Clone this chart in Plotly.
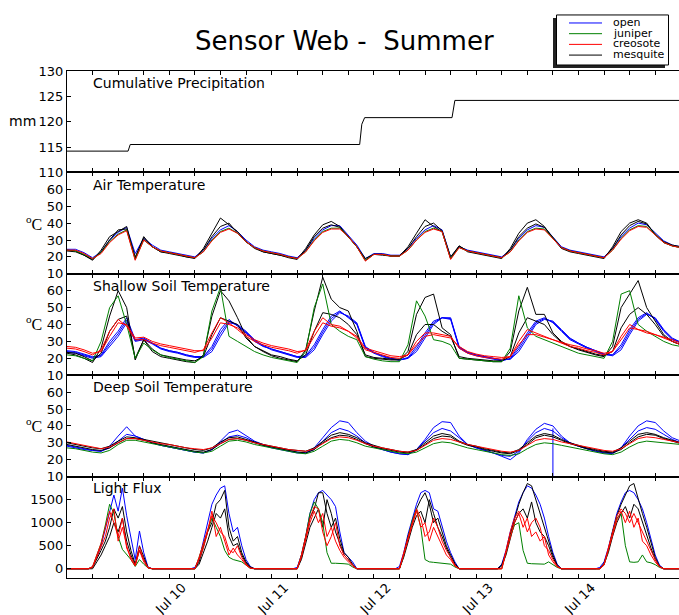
import pandas as pd
import plotly.graph_objects as go
from plotly.subplots import make_subplots

# ---------------------------------------------------------------- time bases
t_temp = pd.date_range("2010-07-09 00:00", periods=73, freq="2h")   # 2-hourly
t_light = pd.date_range("2010-07-09 00:00", periods=145, freq="h")  # hourly

# ---------------------------------------------------------------- precipitation (mm, cumulative)
precip_time = ["2010-07-09 00:00", "2010-07-09 14:20", "2010-07-09 14:50",
               "2010-07-11 20:40", "2010-07-11 21:10", "2010-07-11 21:50",
               "2010-07-12 18:20", "2010-07-12 19:00", "2010-07-15 00:00"]
precip_mm = [114.2, 114.2, 115.5, 115.5, 119.5, 120.8, 120.8, 124.2, 124.2]

# ---------------------------------------------------------------- air temperature (degC, 2-hourly)
air_open = [
    24.5, 24.5, 22.5, 19.5, 23, 30, 34.5, 37.5, 22, 31, 27, 24,
    23, 22, 21, 20, 24, 31, 36, 38.5, 35, 30, 26, 24,
    23, 22, 20.5, 19.5, 24, 31, 36, 38.5, 38.5, 33, 27, 19,
    22, 22, 21, 21, 25, 31, 36, 38.5, 36, 20, 26, 24,
    23, 22, 21, 20, 24, 31, 36, 38.5, 37.5, 32, 26, 24,
    23, 22, 21, 20, 25, 32, 37, 40, 39, 34, 29.5, 27, 26]
air_juniper = [
    24, 23.5, 21.5, 19, 22.5, 29, 33.5, 36, 18.5, 30, 26, 23.5,
    22.5, 21.5, 20.5, 19.5, 23, 30, 35, 37, 34, 29, 25.5, 23.5,
    22.5, 21.5, 20, 19, 23, 30, 35, 37, 37, 32, 26, 18,
    21.5, 21.5, 20.5, 20.5, 24, 30, 35, 37, 35, 19, 25.5, 23.5,
    22.5, 21.5, 20.5, 19.5, 23, 30, 35, 37, 36.5, 31, 25.5, 23.5,
    22.5, 21.5, 20.5, 19.5, 24, 31, 36, 38.5, 38, 33, 28.5, 26.5, 25.5]
air_creosote = [
    24, 24, 22, 19, 22, 28.5, 33, 35.5, 18, 30, 26, 23.5,
    22.5, 21.5, 20.5, 19.5, 23, 29.5, 34.5, 36.5, 34, 29, 25.5, 23.5,
    22.5, 21.5, 20, 19, 23, 29.5, 34.5, 36.5, 36.5, 32, 26, 17.5,
    21.5, 21.5, 20.5, 20.5, 24, 30, 34.5, 36.5, 35, 18.5, 25.5, 23.5,
    22.5, 21.5, 20.5, 19.5, 23, 29.5, 34.5, 36.5, 36, 31, 25.5, 23.5,
    22.5, 21.5, 20.5, 19.5, 24, 30.5, 35.5, 38, 37.5, 33, 28.5, 26.5, 25.5]
air_mesquite_a = [
    24, 23.5, 21, 18, 24, 32, 35, 38, 19, 32, 26, 23,
    22, 21, 20, 19, 25, 34, 43, 39, 35, 29, 25, 23,
    22, 21, 19.5, 18.5, 25, 33, 39, 41, 38, 32, 26, 18,
    21.5, 21, 20.5, 20.5, 26, 34, 42, 38, 35, 19, 26.5, 23,
    22, 21, 20, 19, 25, 34, 40, 42, 38, 31, 25, 23,
    22, 21, 20, 19, 26, 35, 40, 42, 40, 33, 28.5, 26.5, 25.5]
air_mesquite_b = [
    23.5, 23, 21, 18.5, 23, 30, 36, 36.5, 20, 31, 26, 23,
    22.5, 21.5, 20, 19.5, 24, 32, 38, 40, 34, 29, 25.5, 23,
    22, 21, 20, 19, 24, 32, 37, 39, 37.5, 32, 26, 19,
    21.5, 21.5, 20.5, 20.5, 25, 32, 38, 40, 35.5, 20, 26.5, 23.5,
    22.5, 21.5, 20.5, 19.5, 24, 32, 37, 39.5, 37.5, 31.5, 25.5, 23.5,
    22.5, 21.5, 20.5, 19.5, 25, 33, 38.5, 41, 39.5, 33.5, 29, 27, 26]

# ---------------------------------------------------------------- shallow soil temperature (degC, 2-hourly)
shallow_open_a = [
    24, 23.5, 22, 20.5, 22, 30, 36, 44, 31, 32, 29, 26,
    24.5, 23.5, 22, 21, 21, 27, 37, 43, 39, 35, 30, 27,
    25.5, 24, 22.5, 21, 21.5, 28, 37, 45, 48, 44, 40, 26,
    23, 21, 19.5, 19, 20.5, 27, 35, 42, 44, 43, 26, 23,
    21.5, 20.5, 19.5, 18.5, 20, 27, 35, 42, 44, 41, 36, 31,
    28.5, 26, 24, 22, 22, 28, 37, 44, 47, 43, 36, 31, 29]
shallow_open_b = [
    23.5, 23, 21.5, 20, 21, 27, 33, 41, 30, 31, 28.5, 25.5,
    24, 23, 21.5, 20.5, 20.5, 24, 33, 41, 40, 36, 31, 27.5,
    25, 23.5, 22, 20.5, 20.5, 25, 34, 42, 47, 45, 41, 27,
    23.5, 21.5, 20, 19, 20, 24, 32, 40, 44, 44, 27, 23.5,
    22, 21, 20, 19, 19.5, 24, 32, 40, 43, 42, 37, 32,
    29, 26.5, 24.5, 22.5, 21.5, 25, 34, 42, 46, 44, 37, 32, 29.5]
shallow_open_c = [
    24.5, 24, 22.5, 21, 21.5, 28.5, 34.5, 42.5, 30.5, 31.5, 29, 26,
    24.5, 23.5, 22, 21, 21, 25.5, 35, 42, 39.5, 35.5, 30.5, 27.5,
    25.5, 24, 22.5, 21, 21, 26.5, 35.5, 43.5, 47.5, 44.5, 40.5, 26.5,
    23.5, 21.5, 20, 19, 20, 25.5, 33.5, 41, 44, 43.5, 26.5, 23.5,
    22, 21, 20, 19, 19.5, 25.5, 33.5, 41, 43.5, 41.5, 36.5, 31.5,
    29, 26.5, 24.5, 22.5, 22, 26.5, 35.5, 43, 46.5, 43.5, 36.5, 31.5, 29.5]
shallow_juniper = [
    22, 21.5, 20, 18.5, 30, 50, 57, 40, 20, 29, 25, 22,
    20.5, 19.5, 18.5, 17.5, 21, 48, 62, 33, 30, 27, 24, 22,
    20.5, 19.5, 18.5, 17.5, 24, 50, 64, 40, 36, 33, 31, 21,
    19.5, 18.5, 18, 18, 28, 54, 45, 31, 30, 28, 20, 19.5,
    19, 18.5, 18, 18, 26, 57, 38, 33, 31, 29, 27, 25,
    23, 22, 21, 20, 30, 58, 60, 40, 36, 33, 30, 28, 27]
shallow_creosote_a = [
    26, 25.5, 24, 22, 25, 36, 43, 39, 31, 31, 29, 27.5,
    26.5, 25.5, 24.5, 23.5, 25, 35, 44, 41, 37, 33, 30, 28,
    26.5, 25.5, 24.5, 23, 25, 36, 44, 40, 39, 36, 32, 25,
    23.5, 22, 20.5, 20, 22, 30, 35, 35, 34, 33, 26, 23,
    21.5, 20.5, 20, 19.5, 21, 30, 37, 35, 33, 31, 29, 27,
    26, 24.5, 23.5, 22, 24, 33, 40, 37, 36, 34, 32, 30, 28]
shallow_creosote_b = [
    27, 26.5, 25, 23, 24, 33, 41, 40, 32, 32.5, 30, 28.5,
    27.5, 26.5, 25.5, 24.5, 24.5, 32, 41, 40, 38, 34, 31, 29,
    27.5, 26.5, 25.5, 24, 24.5, 33, 41, 39, 38, 36, 33, 26,
    24.5, 23, 21.5, 21, 22, 28, 33, 34, 33, 32, 27, 24,
    22.5, 21.5, 21, 20.5, 21, 28, 34, 34, 32.5, 31, 29.5, 28,
    27, 25.5, 24.5, 23, 24, 31, 38, 37, 35, 34, 32.5, 31, 29]
shallow_mesquite_a = [
    23, 22, 20, 17.5, 26, 45, 60, 50, 19, 31, 24, 21,
    20, 19, 18, 17.5, 22, 45, 60, 54, 44, 33, 27, 24,
    21.5, 20, 19, 18, 25, 48, 68, 55, 50, 48, 36, 21,
    20, 19.5, 19, 19, 24, 46, 56, 58, 38, 34, 20, 19.5,
    19, 18.5, 18, 18, 24, 48, 62, 46, 46, 35, 30, 27,
    25, 23.5, 22, 21, 27, 50, 58, 66, 50, 42, 34, 30, 28]
shallow_mesquite_b = [
    23.5, 23, 21, 18.5, 23, 36, 43, 45, 20, 31, 25.5, 22,
    21, 20, 19, 18.5, 21, 34, 44, 42, 40, 32, 27, 24.5,
    22, 21, 19.5, 18.5, 22, 36, 47, 46, 44, 40, 34, 22,
    20.5, 20, 19.5, 19.5, 22, 34, 40, 40, 36, 33, 21, 20,
    19.5, 19, 18.5, 18.5, 21, 35, 44, 42, 40, 34, 29.5, 27,
    25.5, 24, 22.5, 21.5, 24, 38, 46, 50, 46, 40, 33, 30, 28]

# ---------------------------------------------------------------- deep soil temperature (degC, 2-hourly)
deep_open_a = [
    28.5, 27.5, 26.5, 25.5, 25, 28, 34, 39.5, 34, 32, 30, 28.5,
    27.5, 26.5, 25.5, 24.5, 24, 26, 31, 36, 37.5, 34, 31, 29,
    27.5, 26.5, 25.5, 24.5, 24, 27, 33, 39, 43, 42, 36, 31,
    28, 26, 24.5, 23.5, 23, 26, 32, 39, 42.5, 42, 34, 29,
    27, 25.5, 24, 22, 20, 24, 32, 38, 41.5, 40, 34, 30,
    28, 26.5, 25, 24, 23.5, 27, 34, 40, 43, 42, 37, 33, 31]
deep_open_b = [
    28, 27, 26, 25.5, 25, 27, 31, 35, 34, 32, 30, 28.5,
    27.5, 26.5, 25.5, 24.5, 24, 26, 30, 33.5, 34.5, 33, 30.5, 28.5,
    27, 26, 25, 24, 24, 26, 31, 36, 38.5, 37, 34, 30,
    27.5, 26, 24.5, 23.5, 23, 26, 31, 36, 38.5, 37, 33, 29,
    27, 25.5, 24, 22.5, 22, 25, 31, 36, 38.5, 37, 33, 30,
    28, 26.5, 25, 24, 24, 27, 32, 37, 39, 38, 35, 32, 30]
deep_glitch_time = ["2010-07-13 18:00", "2010-07-13 18:00"]
deep_glitch_vals = [38.5, 10]
deep_juniper = [
    27, 26.5, 25.5, 24.5, 24, 25.5, 29, 31.5, 31.5, 30.5, 29.5, 28.5,
    27.5, 26.5, 25.5, 24.5, 24, 25, 28, 31, 31.5, 30.5, 29, 28,
    27, 26, 25, 24, 23.5, 25, 28, 31, 32, 31.5, 30, 28,
    27, 26, 25, 24, 23.5, 24.5, 27, 29.5, 30.5, 30, 28.5, 27,
    26, 25, 24, 23, 22.5, 23.5, 26.5, 29, 30, 29.5, 28.5, 27.5,
    26.5, 25.5, 24.5, 23.5, 23, 24.5, 27.5, 30, 31, 30.5, 30, 29.5, 29]
deep_creosote = [
    30.5, 29.5, 28.5, 27.5, 26.5, 27.5, 30, 32.5, 32.5, 31.5, 30.5, 29.5,
    29, 28, 27, 26.5, 26, 27, 29.5, 32, 32.5, 31.5, 30, 29,
    28, 27, 26, 25.5, 25, 26.5, 29.5, 32.5, 33.5, 33, 31.5, 29.5,
    28, 27, 26, 25, 24.5, 25.5, 28.5, 31.5, 32.5, 32, 30.5, 29,
    28, 27, 26, 25, 24.5, 25.5, 28.5, 31.5, 32.5, 32, 30.5, 29.5,
    28.5, 27.5, 26.5, 25.5, 25, 26.5, 29.5, 32.5, 33.5, 33, 32, 31, 30]
deep_mesquite_a = [
    30, 29, 28, 27, 26.5, 28, 31, 33.5, 33, 32, 31, 30,
    29, 28, 27, 26, 25.5, 27, 30.5, 33, 33.5, 32, 30.5, 29,
    28, 27, 26, 25.5, 25, 27, 31, 34.5, 36, 35, 33, 30,
    28.5, 27, 26, 25, 24.5, 26, 30, 34, 35.5, 34.5, 31, 29,
    28, 26.5, 25.5, 24.5, 24, 26, 30, 34, 35.5, 34.5, 32, 30,
    28.5, 27, 26, 25, 24.5, 27, 31, 35, 36, 35, 33, 31.5, 30]
deep_mesquite_b = [
    29, 28, 27, 26, 25.5, 27, 30, 32.5, 32.5, 31.5, 30, 29,
    28, 27, 26, 25, 24.5, 26, 29.5, 32, 32.5, 31.5, 30, 28.5,
    27.5, 26.5, 25.5, 24.5, 24, 26, 30, 33, 34.5, 34, 32, 29.5,
    27.5, 26.5, 25.5, 24.5, 24, 25.5, 29, 32.5, 34, 33.5, 30.5, 28.5,
    27.5, 26, 25, 24, 23.5, 25.5, 29, 33, 34.5, 33.5, 31.5, 29.5,
    28, 26.5, 25.5, 24.5, 24, 26, 30, 33.5, 35, 34.5, 32.5, 31, 29.5]

# ---------------------------------------------------------------- light flux (hourly)
light_open = [
    0, 0, 0, 0, 0, 0, 40, 250, 500, 850, 1250, 1600, 1250, 1750, 1150, 650, 200, 820, 350, 40, 0, 0, 0, 0,
    0, 0, 0, 0, 0, 0, 30, 200, 600, 1000, 1400, 1600, 1750, 1800, 1200, 800, 900, 500, 200, 50, 0, 0, 0, 0,
    0, 0, 0, 0, 0, 0, 30, 300, 700, 1200, 1500, 1650, 1700, 1600, 1500, 1350, 800, 350, 250, 150, 0, 0, 0, 0,
    0, 0, 0, 0, 0, 0, 50, 350, 750, 1100, 1400, 1650, 1700, 1650, 1300, 1250, 900, 600, 350, 150, 0, 0, 0, 0,
    0, 0, 0, 0, 0, 0, 100, 400, 800, 1150, 1450, 1650, 1800, 1750, 1600, 1400, 1100, 700, 350, 100, 0, 0, 0, 0,
    0, 0, 0, 0, 0, 30, 150, 450, 850, 1200, 1450, 1650, 1700, 1650, 1500, 1300, 1000, 650, 300, 80, 0, 0, 0, 0,
    0]
light_mesquite_a = [
    0, 0, 0, 0, 0, 0, 30, 200, 400, 600, 900, 1300, 1100, 1350, 800, 400, 100, 500, 250, 30, 0, 0, 0, 0,
    0, 0, 0, 0, 0, 0, 0, 150, 450, 800, 1000, 1400, 1500, 1700, 900, 600, 700, 350, 150, 40, 0, 0, 0, 0,
    0, 0, 0, 0, 0, 0, 0, 250, 650, 1100, 1300, 1650, 1650, 1200, 900, 1100, 650, 350, 250, 100, 0, 0, 0, 0,
    0, 0, 0, 0, 0, 0, 0, 300, 700, 1000, 1300, 1500, 1650, 1400, 1000, 1100, 800, 500, 300, 120, 0, 0, 0, 0,
    0, 0, 0, 0, 0, 0, 80, 350, 750, 1100, 1400, 1650, 1850, 1800, 1500, 1200, 900, 600, 300, 80, 0, 0, 0, 0,
    0, 0, 0, 0, 0, 0, 120, 400, 800, 1150, 1400, 1600, 1800, 1850, 1500, 1200, 900, 550, 250, 60, 0, 0, 0, 0,
    0]
light_mesquite_b = [
    0, 0, 0, 0, 0, 0, 0, 150, 300, 500, 700, 1000, 800, 1100, 600, 300, 80, 400, 200, 20, 0, 0, 0, 0,
    0, 0, 0, 0, 0, 0, 0, 100, 350, 600, 900, 1200, 1100, 1300, 700, 500, 550, 300, 120, 30, 0, 0, 0, 0,
    0, 0, 0, 0, 0, 0, 0, 200, 550, 900, 1100, 1300, 900, 1500, 1200, 800, 550, 300, 200, 80, 0, 0, 0, 0,
    0, 0, 0, 0, 0, 0, 0, 250, 600, 900, 1150, 1250, 1000, 1500, 1200, 900, 700, 450, 250, 100, 0, 0, 0, 0,
    0, 0, 0, 0, 0, 0, 60, 300, 650, 1000, 1200, 1300, 1100, 1450, 1000, 800, 700, 500, 250, 60, 0, 0, 0, 0,
    0, 0, 0, 0, 0, 0, 100, 350, 700, 1000, 1200, 1350, 1100, 1400, 1300, 1000, 750, 450, 200, 50, 0, 0, 0, 0,
    0]
light_juniper = [
    0, 0, 0, 0, 0, 0, 40, 280, 550, 950, 1400, 1200, 700, 420, 300, 200, 50, 200, 100, 20, 0, 0, 0, 0,
    0, 0, 0, 0, 0, 0, 0, 250, 550, 850, 1100, 900, 700, 400, 250, 200, 180, 150, 80, 10, 0, 0, 0, 0,
    0, 0, 0, 0, 0, 0, 0, 300, 700, 1200, 1450, 1300, 1000, 350, 120, 120, 120, 110, 100, 40, 0, 0, 0, 0,
    0, 0, 0, 0, 0, 0, 0, 300, 700, 1050, 1300, 900, 200, 150, 140, 130, 130, 120, 100, 40, 0, 0, 0, 0,
    0, 0, 0, 0, 0, 0, 0, 350, 700, 950, 1000, 400, 120, 110, 110, 100, 100, 150, 90, 30, 0, 0, 0, 0,
    0, 0, 0, 0, 0, 0, 80, 400, 800, 1100, 1200, 500, 150, 140, 150, 300, 150, 130, 90, 30, 0, 0, 0, 0,
    0]
light_creosote_a = [
    0, 0, 0, 0, 0, 0, 50, 300, 550, 900, 1250, 1000, 700, 1100, 450, 250, 80, 480, 200, 30, 0, 0, 0, 0,
    0, 0, 0, 0, 0, 0, 0, 250, 550, 900, 1150, 1000, 800, 700, 400, 350, 500, 250, 100, 20, 0, 0, 0, 0,
    0, 0, 0, 0, 0, 0, 0, 300, 700, 1100, 1350, 1300, 800, 500, 700, 1000, 500, 300, 200, 80, 0, 0, 0, 0,
    0, 0, 0, 0, 0, 0, 0, 350, 700, 1000, 1300, 1100, 700, 800, 1100, 900, 600, 400, 250, 80, 0, 0, 0, 0,
    0, 0, 0, 0, 0, 0, 0, 400, 800, 1100, 1250, 1100, 800, 1000, 1100, 900, 500, 400, 200, 60, 0, 0, 0, 0,
    0, 0, 0, 0, 0, 0, 100, 450, 850, 1150, 1300, 1200, 1000, 1200, 1000, 800, 600, 400, 200, 50, 0, 0, 0, 0,
    0]
light_creosote_b = [
    0, 0, 0, 0, 0, 0, 30, 250, 450, 700, 1100, 1300, 600, 900, 500, 200, 60, 400, 150, 20, 0, 0, 0, 0,
    0, 0, 0, 0, 0, 0, 0, 200, 450, 800, 1250, 700, 900, 600, 300, 450, 300, 200, 80, 10, 0, 0, 0, 0,
    0, 0, 0, 0, 0, 0, 0, 250, 600, 1000, 1250, 1000, 1200, 700, 900, 600, 400, 250, 150, 60, 0, 0, 0, 0,
    0, 0, 0, 0, 0, 0, 0, 300, 650, 950, 1250, 900, 1000, 600, 900, 700, 500, 300, 200, 60, 0, 0, 0, 0,
    0, 0, 0, 0, 0, 0, 0, 350, 700, 1000, 1200, 900, 1100, 700, 800, 600, 700, 300, 150, 40, 0, 0, 0, 0,
    0, 0, 0, 0, 0, 0, 80, 400, 750, 1050, 1250, 1000, 1250, 900, 1100, 600, 500, 300, 150, 40, 0, 0, 0, 0,
    0]

# ---------------------------------------------------------------- axis labels / ticks
panel_titles = ["Cumulative Precipitation", "Air Temperature", "Shallow Soil Temperature",
                "Deep Soil Temperature", "Light Flux"]
y_ranges = [[110, 130], [10, 70], [10, 70], [10, 70], [-200, 2000]]
y_ticks = [[110, 115, 120, 125, 130], [10, 20, 30, 40, 50, 60], [10, 20, 30, 40, 50, 60],
           [10, 20, 30, 40, 50, 60], [0, 500, 1000, 1500]]
day_ticks = ["2010-07-10", "2010-07-11", "2010-07-12", "2010-07-13", "2010-07-14"]
sites = ["open", "juniper", "creosote", "mesquite"]
site_colors = {"open": "#0000ff", "juniper": "#008000", "creosote": "#ff0000", "mesquite": "#000000"}

# ---------------------------------------------------------------- page geometry
W, H = 679, 615
ML, MT, MB = 67, 71, 37.3
PW, PH = W - ML, H - MT - MB


def fx(x):
    return (x - ML) / PW


def fy(y):
    return (H - MB - y) / PH


fig = make_subplots(rows=5, cols=1, shared_xaxes=True, vertical_spacing=0)


def add(row, x, y, site):
    fig.add_trace(go.Scatter(x=x, y=y, mode="lines", showlegend=False, hoverinfo="skip",
                             line=dict(color=site_colors[site], width=1)), row=row, col=1)


add(1, precip_time, precip_mm, "mesquite")

add(2, t_temp, air_open, "open")
add(2, t_temp, air_mesquite_a, "mesquite")
add(2, t_temp, air_mesquite_b, "mesquite")
add(2, t_temp, air_juniper, "juniper")
add(2, t_temp, air_creosote, "creosote")

add(3, t_temp, shallow_open_a, "open")
add(3, t_temp, shallow_open_b, "open")
add(3, t_temp, shallow_open_c, "open")
add(3, t_temp, shallow_mesquite_a, "mesquite")
add(3, t_temp, shallow_mesquite_b, "mesquite")
add(3, t_temp, shallow_juniper, "juniper")
add(3, t_temp, shallow_creosote_a, "creosote")
add(3, t_temp, shallow_creosote_b, "creosote")

add(4, t_temp, deep_open_a, "open")
add(4, deep_glitch_time, deep_glitch_vals, "open")
add(4, t_temp, deep_open_b, "open")
add(4, t_temp, deep_mesquite_a, "mesquite")
add(4, t_temp, deep_mesquite_b, "mesquite")
add(4, t_temp, deep_juniper, "juniper")
add(4, t_temp, deep_creosote, "creosote")

add(5, t_light, light_open, "open")
add(5, t_light, light_mesquite_a, "mesquite")
add(5, t_light, light_mesquite_b, "mesquite")
add(5, t_light, light_juniper, "juniper")
add(5, t_light, light_creosote_a, "creosote")
add(5, t_light, light_creosote_b, "creosote")

font_main = "DejaVu Sans, Verdana, sans-serif"

fig.update_xaxes(
    range=["2010-07-09 00:00", "2010-07-14 23:35"],
    automargin=False,
    showline=True, linecolor="black", linewidth=1, mirror="ticks",
    ticks="inside", ticklen=4, tickcolor="black", tickwidth=1,
    tickmode="array", tickvals=day_ticks, tickformat="%b %d",
    showgrid=False, zeroline=False,
    tickfont=dict(family=font_main, size=13, color="black"),
    minor=dict(ticks="inside", ticklen=4, tickcolor="black", tickmode="linear",
               tick0="2010-07-09", dtick=6 * 3600 * 1000, showgrid=False),
)
# rotated day labels, centred under their ticks
fig.update_xaxes(tickangle=-45, ticklabelshift=13, ticklabelstandoff=-4, row=5, col=1)

for i in range(5):
    fig.update_yaxes(range=y_ranges[i], tickmode="array", tickvals=y_ticks[i],
                     automargin=False,
                     showline=True, linecolor="black", linewidth=1, mirror=False,
                     ticks="inside", ticklen=4, tickcolor="black",
                     showgrid=False, zeroline=False,
                     tickfont=dict(family=font_main, size=13, color="black"),
                     row=i + 1, col=1)

annotations = []
# title
annotations.append(dict(text="Sensor Web - \u00a0Summer", x=fx(344.5), y=fy(41), xref="paper", yref="paper",
                        xanchor="center", yanchor="middle", showarrow=False,
                        font=dict(family=font_main, size=26, color="black")))
# panel titles
title_y = [83, 184.5, 285.5, 386.5, 488]
for name, ty in zip(panel_titles, title_y):
    annotations.append(dict(text=name, x=fx(91), y=fy(ty), xref="paper", yref="paper",
                            xanchor="left", yanchor="middle", showarrow=False,
                            font=dict(family=font_main, size=14, color="black")))
# y units
annotations.append(dict(text="mm", x=fx(22.5), y=fy(121), xref="paper", yref="paper",
                        xanchor="center", yanchor="middle", showarrow=False,
                        font=dict(family=font_main, size=14, color="black")))
for cy in [222.5, 323, 425]:
    annotations.append(dict(text="<sup>o</sup>C", x=fx(33.5), y=fy(cy), xref="paper", yref="paper",
                            xanchor="center", yanchor="middle", showarrow=False,
                            font=dict(family="Liberation Serif, serif", size=16, color="black")))

# legend box with shadow
shapes = [
    dict(type="rect", xref="paper", yref="paper", x0=fx(553), x1=fx(665), y0=fy(68), y1=fy(18),
         fillcolor="#222222", line=dict(width=0)),
    dict(type="rect", xref="paper", yref="paper", x0=fx(556.5), x1=fx(668.5), y0=fy(65), y1=fy(15),
         fillcolor="white", line=dict(color="black", width=1)),
]
for k, site in enumerate(sites):
    ly = 23 + 10.7 * k
    shapes.append(dict(type="line", xref="paper", yref="paper", x0=fx(569), x1=fx(602),
                       y0=fy(ly), y1=fy(ly), line=dict(color=site_colors[site], width=1)))
    annotations.append(dict(text=site, x=fx(611), y=fy(ly - 0.5), xref="paper", yref="paper",
                            xanchor="left", yanchor="middle", showarrow=False, height=11,
                            font=dict(family=font_main, size=11, color="black")))

fig.update_layout(
    width=W, height=H, autosize=False,
    margin=dict(l=ML, r=0, t=MT, b=MB, pad=0),
    paper_bgcolor="white", plot_bgcolor="white",
    showlegend=False,
    annotations=annotations, shapes=shapes,
)

fig.write_html("out.html")
